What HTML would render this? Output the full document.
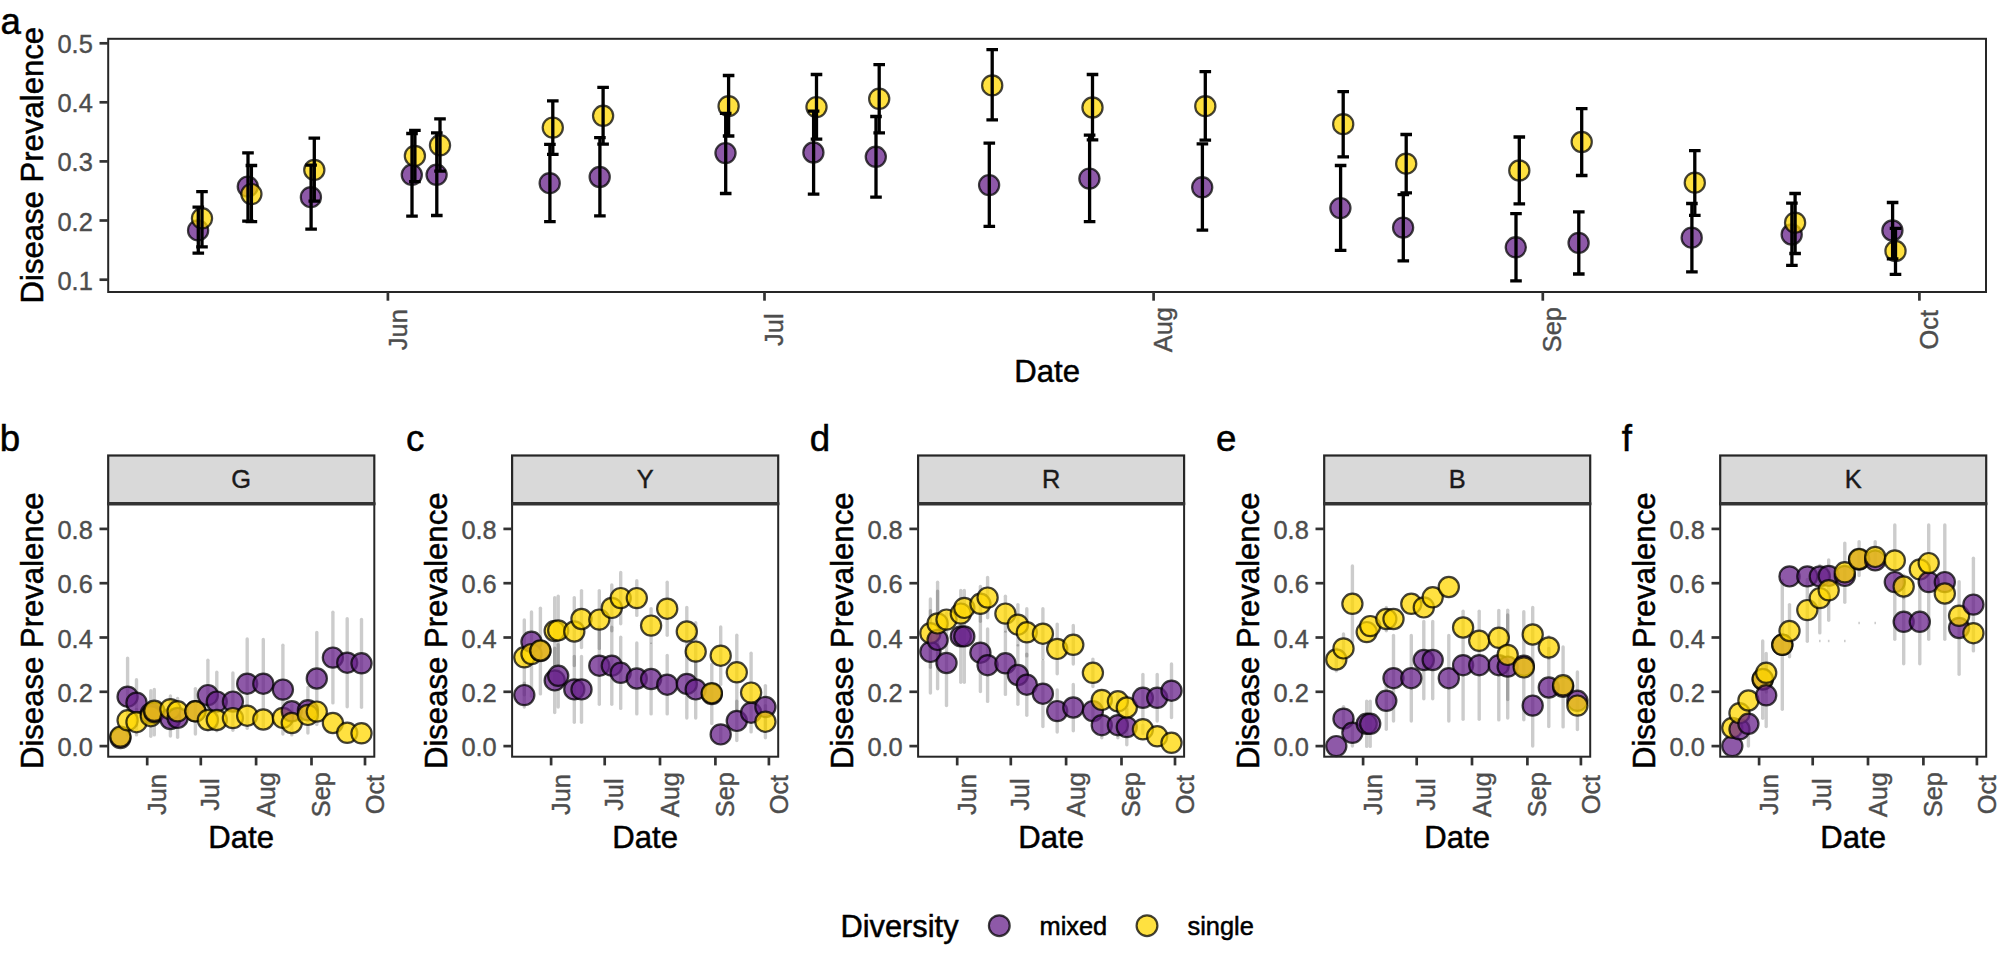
<!DOCTYPE html>
<html lang="en"><head><meta charset="utf-8"><title>Disease prevalence by diversity</title>
<style>html,body{margin:0;padding:0;background:#fff}svg{display:block}</style></head>
<body>
<svg width="2006" height="966" viewBox="0 0 2006 966" font-family='"Liberation Sans", Arial, sans-serif'>
<rect width="2006" height="966" fill="#fff"/>
<g id="panel-a">
<circle cx="198.1" cy="230.4" r="10.1" fill="#68228B" fill-opacity="0.75" stroke="#000" stroke-opacity="0.74" stroke-width="2.2"/>
<circle cx="202.0" cy="218.3" r="10.1" fill="#FFD700" fill-opacity="0.75" stroke="#000" stroke-opacity="0.74" stroke-width="2.2"/>
<circle cx="247.8" cy="186.6" r="10.1" fill="#68228B" fill-opacity="0.75" stroke="#000" stroke-opacity="0.74" stroke-width="2.2"/>
<circle cx="251.4" cy="194.1" r="10.1" fill="#FFD700" fill-opacity="0.75" stroke="#000" stroke-opacity="0.74" stroke-width="2.2"/>
<circle cx="310.9" cy="197.2" r="10.1" fill="#68228B" fill-opacity="0.75" stroke="#000" stroke-opacity="0.74" stroke-width="2.2"/>
<circle cx="314.3" cy="169.9" r="10.1" fill="#FFD700" fill-opacity="0.75" stroke="#000" stroke-opacity="0.74" stroke-width="2.2"/>
<circle cx="411.8" cy="174.8" r="10.1" fill="#68228B" fill-opacity="0.75" stroke="#000" stroke-opacity="0.74" stroke-width="2.2"/>
<circle cx="414.9" cy="155.9" r="10.1" fill="#FFD700" fill-opacity="0.75" stroke="#000" stroke-opacity="0.74" stroke-width="2.2"/>
<circle cx="436.6" cy="174.8" r="10.1" fill="#68228B" fill-opacity="0.75" stroke="#000" stroke-opacity="0.74" stroke-width="2.2"/>
<circle cx="440.0" cy="145.3" r="10.1" fill="#FFD700" fill-opacity="0.75" stroke="#000" stroke-opacity="0.74" stroke-width="2.2"/>
<circle cx="549.7" cy="183.2" r="10.1" fill="#68228B" fill-opacity="0.75" stroke="#000" stroke-opacity="0.74" stroke-width="2.2"/>
<circle cx="552.8" cy="127.6" r="10.1" fill="#FFD700" fill-opacity="0.75" stroke="#000" stroke-opacity="0.74" stroke-width="2.2"/>
<circle cx="599.7" cy="177.0" r="10.1" fill="#68228B" fill-opacity="0.75" stroke="#000" stroke-opacity="0.74" stroke-width="2.2"/>
<circle cx="603.1" cy="115.8" r="10.1" fill="#FFD700" fill-opacity="0.75" stroke="#000" stroke-opacity="0.74" stroke-width="2.2"/>
<circle cx="725.5" cy="153.1" r="10.1" fill="#68228B" fill-opacity="0.75" stroke="#000" stroke-opacity="0.74" stroke-width="2.2"/>
<circle cx="728.6" cy="106.2" r="10.1" fill="#FFD700" fill-opacity="0.75" stroke="#000" stroke-opacity="0.74" stroke-width="2.2"/>
<circle cx="813.4" cy="152.5" r="10.1" fill="#68228B" fill-opacity="0.75" stroke="#000" stroke-opacity="0.74" stroke-width="2.2"/>
<circle cx="816.5" cy="107.1" r="10.1" fill="#FFD700" fill-opacity="0.75" stroke="#000" stroke-opacity="0.74" stroke-width="2.2"/>
<circle cx="875.8" cy="156.8" r="10.1" fill="#68228B" fill-opacity="0.75" stroke="#000" stroke-opacity="0.74" stroke-width="2.2"/>
<circle cx="879.2" cy="98.8" r="10.1" fill="#FFD700" fill-opacity="0.75" stroke="#000" stroke-opacity="0.74" stroke-width="2.2"/>
<circle cx="989.1" cy="185.1" r="10.1" fill="#68228B" fill-opacity="0.75" stroke="#000" stroke-opacity="0.74" stroke-width="2.2"/>
<circle cx="992.2" cy="85.4" r="10.1" fill="#FFD700" fill-opacity="0.75" stroke="#000" stroke-opacity="0.74" stroke-width="2.2"/>
<circle cx="1089.4" cy="178.6" r="10.1" fill="#68228B" fill-opacity="0.75" stroke="#000" stroke-opacity="0.74" stroke-width="2.2"/>
<circle cx="1092.5" cy="107.5" r="10.1" fill="#FFD700" fill-opacity="0.75" stroke="#000" stroke-opacity="0.74" stroke-width="2.2"/>
<circle cx="1202.2" cy="187.3" r="10.1" fill="#68228B" fill-opacity="0.75" stroke="#000" stroke-opacity="0.74" stroke-width="2.2"/>
<circle cx="1205.3" cy="106.2" r="10.1" fill="#FFD700" fill-opacity="0.75" stroke="#000" stroke-opacity="0.74" stroke-width="2.2"/>
<circle cx="1340.4" cy="208.1" r="10.1" fill="#68228B" fill-opacity="0.75" stroke="#000" stroke-opacity="0.74" stroke-width="2.2"/>
<circle cx="1343.2" cy="124.2" r="10.1" fill="#FFD700" fill-opacity="0.75" stroke="#000" stroke-opacity="0.74" stroke-width="2.2"/>
<circle cx="1403.1" cy="227.6" r="10.1" fill="#68228B" fill-opacity="0.75" stroke="#000" stroke-opacity="0.74" stroke-width="2.2"/>
<circle cx="1406.2" cy="163.7" r="10.1" fill="#FFD700" fill-opacity="0.75" stroke="#000" stroke-opacity="0.74" stroke-width="2.2"/>
<circle cx="1515.8" cy="247.3" r="10.1" fill="#68228B" fill-opacity="0.75" stroke="#000" stroke-opacity="0.74" stroke-width="2.2"/>
<circle cx="1519.3" cy="170.5" r="10.1" fill="#FFD700" fill-opacity="0.75" stroke="#000" stroke-opacity="0.74" stroke-width="2.2"/>
<circle cx="1578.6" cy="242.9" r="10.1" fill="#68228B" fill-opacity="0.75" stroke="#000" stroke-opacity="0.74" stroke-width="2.2"/>
<circle cx="1581.7" cy="142.0" r="10.1" fill="#FFD700" fill-opacity="0.75" stroke="#000" stroke-opacity="0.74" stroke-width="2.2"/>
<circle cx="1691.7" cy="237.7" r="10.1" fill="#68228B" fill-opacity="0.75" stroke="#000" stroke-opacity="0.74" stroke-width="2.2"/>
<circle cx="1694.8" cy="182.7" r="10.1" fill="#FFD700" fill-opacity="0.75" stroke="#000" stroke-opacity="0.74" stroke-width="2.2"/>
<circle cx="1791.7" cy="234.5" r="10.1" fill="#68228B" fill-opacity="0.75" stroke="#000" stroke-opacity="0.74" stroke-width="2.2"/>
<circle cx="1795.1" cy="222.7" r="10.1" fill="#FFD700" fill-opacity="0.75" stroke="#000" stroke-opacity="0.74" stroke-width="2.2"/>
<circle cx="1892.4" cy="230.5" r="10.1" fill="#68228B" fill-opacity="0.75" stroke="#000" stroke-opacity="0.74" stroke-width="2.2"/>
<circle cx="1895.5" cy="251.0" r="10.1" fill="#FFD700" fill-opacity="0.75" stroke="#000" stroke-opacity="0.74" stroke-width="2.2"/>
<path d="M192.5 207.1H204.1M198.3 207.1V253.1M192.5 253.1H204.1" stroke="#000" stroke-width="3.3" fill="none"/>
<path d="M196.2 191.6H207.8M202.0 191.6V246.9M196.2 246.9H207.8" stroke="#000" stroke-width="3.3" fill="none"/>
<path d="M242.2 152.8H253.8M248.0 152.8V221.1M242.2 221.1H253.8" stroke="#000" stroke-width="3.3" fill="none"/>
<path d="M245.6 165.5H257.2M251.4 165.5V221.7M245.6 221.7H257.2" stroke="#000" stroke-width="3.3" fill="none"/>
<path d="M305.3 165.2H316.9M311.1 165.2V229.2M305.3 229.2H316.9" stroke="#000" stroke-width="3.3" fill="none"/>
<path d="M308.5 138.2H320.1M314.3 138.2V201.2M308.5 201.2H320.1" stroke="#000" stroke-width="3.3" fill="none"/>
<path d="M406.2 133.5H417.8M412.0 133.5V216.1M406.2 216.1H417.8" stroke="#000" stroke-width="3.3" fill="none"/>
<path d="M409.1 130.4H420.7M414.9 130.4V181.7M409.1 181.7H420.7" stroke="#000" stroke-width="3.3" fill="none"/>
<path d="M431.0 132.9H442.6M436.8 132.9V215.5M431.0 215.5H442.6" stroke="#000" stroke-width="3.3" fill="none"/>
<path d="M434.2 118.9H445.8M440.0 118.9V171.1M434.2 171.1H445.8" stroke="#000" stroke-width="3.3" fill="none"/>
<path d="M544.1 144.4H555.7M549.9 144.4V221.7M544.1 221.7H555.7" stroke="#000" stroke-width="3.3" fill="none"/>
<path d="M547.0 100.9H558.6M552.8 100.9V154.3M547.0 154.3H558.6" stroke="#000" stroke-width="3.3" fill="none"/>
<path d="M594.1 137.6H605.7M599.9 137.6V215.8M594.1 215.8H605.7" stroke="#000" stroke-width="3.3" fill="none"/>
<path d="M597.3 87.3H608.9M603.1 87.3V144.1M597.3 144.1H608.9" stroke="#000" stroke-width="3.3" fill="none"/>
<path d="M719.9 113.4H731.5M725.7 113.4V193.5M719.9 193.5H731.5" stroke="#000" stroke-width="3.3" fill="none"/>
<path d="M722.8 75.5H734.4M728.6 75.5V136.0M722.8 136.0H734.4" stroke="#000" stroke-width="3.3" fill="none"/>
<path d="M807.8 111.2H819.4M813.6 111.2V194.1M807.8 194.1H819.4" stroke="#000" stroke-width="3.3" fill="none"/>
<path d="M810.7 74.5H822.3M816.5 74.5V139.1M810.7 139.1H822.3" stroke="#000" stroke-width="3.3" fill="none"/>
<path d="M870.2 116.5H881.8M876.0 116.5V197.2M870.2 197.2H881.8" stroke="#000" stroke-width="3.3" fill="none"/>
<path d="M873.4 64.6H885.0M879.2 64.6V132.9M873.4 132.9H885.0" stroke="#000" stroke-width="3.3" fill="none"/>
<path d="M983.5 143.2H995.1M989.3 143.2V226.4M983.5 226.4H995.1" stroke="#000" stroke-width="3.3" fill="none"/>
<path d="M986.4 49.7H998.0M992.2 49.7V119.9M986.4 119.9H998.0" stroke="#000" stroke-width="3.3" fill="none"/>
<path d="M1083.8 135.1H1095.4M1089.6 135.1V221.7M1083.8 221.7H1095.4" stroke="#000" stroke-width="3.3" fill="none"/>
<path d="M1086.7 74.5H1098.3M1092.5 74.5V139.8M1086.7 139.8H1098.3" stroke="#000" stroke-width="3.3" fill="none"/>
<path d="M1196.6 143.8H1208.2M1202.4 143.8V230.1M1196.6 230.1H1208.2" stroke="#000" stroke-width="3.3" fill="none"/>
<path d="M1199.5 71.7H1211.1M1205.3 71.7V140.1M1199.5 140.1H1211.1" stroke="#000" stroke-width="3.3" fill="none"/>
<path d="M1334.8 165.5H1346.4M1340.6 165.5V250.3M1334.8 250.3H1346.4" stroke="#000" stroke-width="3.3" fill="none"/>
<path d="M1337.4 91.6H1349.0M1343.2 91.6V156.8M1337.4 156.8H1349.0" stroke="#000" stroke-width="3.3" fill="none"/>
<path d="M1397.5 194.7H1409.1M1403.3 194.7V260.9M1397.5 260.9H1409.1" stroke="#000" stroke-width="3.3" fill="none"/>
<path d="M1400.4 134.5H1412.0M1406.2 134.5V192.9M1400.4 192.9H1412.0" stroke="#000" stroke-width="3.3" fill="none"/>
<path d="M1510.2 213.7H1521.8M1516.0 213.7V280.8M1510.2 280.8H1521.8" stroke="#000" stroke-width="3.3" fill="none"/>
<path d="M1513.5 137.0H1525.1M1519.3 137.0V203.8M1513.5 203.8H1525.1" stroke="#000" stroke-width="3.3" fill="none"/>
<path d="M1573.0 211.9H1584.6M1578.8 211.9V274.0M1573.0 274.0H1584.6" stroke="#000" stroke-width="3.3" fill="none"/>
<path d="M1575.9 108.7H1587.5M1581.7 108.7V175.5M1575.9 175.5H1587.5" stroke="#000" stroke-width="3.3" fill="none"/>
<path d="M1686.1 203.5H1697.7M1691.9 203.5V271.8M1686.1 271.8H1697.7" stroke="#000" stroke-width="3.3" fill="none"/>
<path d="M1689.0 150.7H1700.6M1694.8 150.7V215.3M1689.0 215.3H1700.6" stroke="#000" stroke-width="3.3" fill="none"/>
<path d="M1786.1 203.2H1797.7M1791.9 203.2V265.3M1786.1 265.3H1797.7" stroke="#000" stroke-width="3.3" fill="none"/>
<path d="M1789.3 193.5H1800.9M1795.1 193.5V253.5M1789.3 253.5H1800.9" stroke="#000" stroke-width="3.3" fill="none"/>
<path d="M1886.8 202.5H1898.4M1892.6 202.5V258.8M1886.8 258.8H1898.4" stroke="#000" stroke-width="3.3" fill="none"/>
<path d="M1889.7 228.3H1901.3M1895.5 228.3V274.3M1889.7 274.3H1901.3" stroke="#000" stroke-width="3.3" fill="none"/>
<rect x="108.2" y="38.8" width="1877.8" height="253.2" fill="none" stroke="#262626" stroke-width="2.0"/>
<path d="M99.5 43.3H108.2" stroke="#333333" stroke-width="2.7"/>
<text x="92.8" y="53.3" font-size="25.4" fill="#4D4D4D" stroke="#4D4D4D" stroke-width="0.4" text-anchor="end">0.5</text>
<path d="M99.5 102.3H108.2" stroke="#333333" stroke-width="2.7"/>
<text x="92.8" y="112.3" font-size="25.4" fill="#4D4D4D" stroke="#4D4D4D" stroke-width="0.4" text-anchor="end">0.4</text>
<path d="M99.5 161.4H108.2" stroke="#333333" stroke-width="2.7"/>
<text x="92.8" y="171.4" font-size="25.4" fill="#4D4D4D" stroke="#4D4D4D" stroke-width="0.4" text-anchor="end">0.3</text>
<path d="M99.5 220.5H108.2" stroke="#333333" stroke-width="2.7"/>
<text x="92.8" y="230.5" font-size="25.4" fill="#4D4D4D" stroke="#4D4D4D" stroke-width="0.4" text-anchor="end">0.2</text>
<path d="M99.5 279.7H108.2" stroke="#333333" stroke-width="2.7"/>
<text x="92.8" y="289.7" font-size="25.4" fill="#4D4D4D" stroke="#4D4D4D" stroke-width="0.4" text-anchor="end">0.1</text>
<path d="M387.9 292.0V300.7" stroke="#333333" stroke-width="2.7"/>
<text transform="translate(406.5 329.7) rotate(-90)" font-size="25.4" fill="#4D4D4D" stroke="#4D4D4D" stroke-width="0.4" text-anchor="middle">Jun</text>
<path d="M764.5 292.0V300.7" stroke="#333333" stroke-width="2.7"/>
<text transform="translate(783.1 329.7) rotate(-90)" font-size="25.4" fill="#4D4D4D" stroke="#4D4D4D" stroke-width="0.4" text-anchor="middle">Jul</text>
<path d="M1153.6 292.0V300.7" stroke="#333333" stroke-width="2.7"/>
<text transform="translate(1172.2 329.7) rotate(-90)" font-size="25.4" fill="#4D4D4D" stroke="#4D4D4D" stroke-width="0.4" text-anchor="middle">Aug</text>
<path d="M1542.8 292.0V300.7" stroke="#333333" stroke-width="2.7"/>
<text transform="translate(1561.4 329.7) rotate(-90)" font-size="25.4" fill="#4D4D4D" stroke="#4D4D4D" stroke-width="0.4" text-anchor="middle">Sep</text>
<path d="M1919.4 292.0V300.7" stroke="#333333" stroke-width="2.7"/>
<text transform="translate(1938.0 329.7) rotate(-90)" font-size="25.4" fill="#4D4D4D" stroke="#4D4D4D" stroke-width="0.4" text-anchor="middle">Oct</text>
<text x="1047.1" y="382.3" font-size="31.1" text-anchor="middle" fill="#000" stroke="#000" stroke-width="0.5">Date</text>
<text transform="translate(42.8 165.2) rotate(-90)" font-size="31.1" text-anchor="middle" fill="#000" stroke="#000" stroke-width="0.5">Disease Prevalence</text>
<text x="0.5" y="33.8" font-size="36.7" fill="#000" stroke="#000" stroke-width="0.5">a</text>
</g>
<g id="panel-b">
<rect x="108.2" y="455.5" width="266.1" height="48.3" fill="#D9D9D9" stroke="#262626" stroke-width="2.2"/>
<text x="241.2" y="488.4" font-size="25.4" text-anchor="middle" fill="#1A1A1A" stroke="#1A1A1A" stroke-width="0.4">G</text>
<path d="M127.6 658.1V735.3" stroke="#000" stroke-opacity="0.2" stroke-width="3.4" stroke-linecap="round"/>
<path d="M136.5 679.7V725.6" stroke="#000" stroke-opacity="0.2" stroke-width="3.4" stroke-linecap="round"/>
<path d="M136.5 709.5V734.9" stroke="#000" stroke-opacity="0.2" stroke-width="3.4" stroke-linecap="round"/>
<path d="M150.8 690.8V736.2" stroke="#000" stroke-opacity="0.2" stroke-width="3.4" stroke-linecap="round"/>
<path d="M154.3 689.4V734.9" stroke="#000" stroke-opacity="0.2" stroke-width="3.4" stroke-linecap="round"/>
<path d="M170.4 696.0V722.4" stroke="#000" stroke-opacity="0.2" stroke-width="3.4" stroke-linecap="round"/>
<path d="M170.4 701.9V736.0" stroke="#000" stroke-opacity="0.2" stroke-width="3.4" stroke-linecap="round"/>
<path d="M177.6 698.4V737.3" stroke="#000" stroke-opacity="0.2" stroke-width="3.4" stroke-linecap="round"/>
<path d="M195.4 688.6V734.1" stroke="#000" stroke-opacity="0.2" stroke-width="3.4" stroke-linecap="round"/>
<path d="M207.9 660.2V729.9" stroke="#000" stroke-opacity="0.2" stroke-width="3.4" stroke-linecap="round"/>
<path d="M216.8 672.3V730.8" stroke="#000" stroke-opacity="0.2" stroke-width="3.4" stroke-linecap="round"/>
<path d="M232.9 672.9V730.3" stroke="#000" stroke-opacity="0.2" stroke-width="3.4" stroke-linecap="round"/>
<path d="M247.2 639.0V728.3" stroke="#000" stroke-opacity="0.2" stroke-width="3.4" stroke-linecap="round"/>
<path d="M263.3 639.5V727.8" stroke="#000" stroke-opacity="0.2" stroke-width="3.4" stroke-linecap="round"/>
<path d="M282.9 645.2V734.1" stroke="#000" stroke-opacity="0.2" stroke-width="3.4" stroke-linecap="round"/>
<path d="M291.8 704.7V718.0" stroke="#000" stroke-opacity="0.2" stroke-width="3.4" stroke-linecap="round"/>
<path d="M291.8 711.2V734.9" stroke="#000" stroke-opacity="0.2" stroke-width="3.4" stroke-linecap="round"/>
<path d="M307.9 687.5V733.0" stroke="#000" stroke-opacity="0.2" stroke-width="3.4" stroke-linecap="round"/>
<path d="M316.8 632.4V724.6" stroke="#000" stroke-opacity="0.2" stroke-width="3.4" stroke-linecap="round"/>
<path d="M332.9 612.3V702.9" stroke="#000" stroke-opacity="0.2" stroke-width="3.4" stroke-linecap="round"/>
<path d="M347.2 618.8V706.7" stroke="#000" stroke-opacity="0.2" stroke-width="3.4" stroke-linecap="round"/>
<path d="M361.5 619.4V707.2" stroke="#000" stroke-opacity="0.2" stroke-width="3.4" stroke-linecap="round"/>
<circle cx="120.4" cy="738.0" r="10.1" fill="#68228B" fill-opacity="0.75" stroke="#000" stroke-opacity="0.74" stroke-width="2.2"/>
<circle cx="120.4" cy="736.6" r="10.1" fill="#FFD700" fill-opacity="0.75" stroke="#000" stroke-opacity="0.74" stroke-width="2.2"/>
<circle cx="127.6" cy="696.7" r="10.1" fill="#68228B" fill-opacity="0.75" stroke="#000" stroke-opacity="0.74" stroke-width="2.2"/>
<circle cx="127.6" cy="720.3" r="10.1" fill="#FFD700" fill-opacity="0.75" stroke="#000" stroke-opacity="0.74" stroke-width="2.2"/>
<circle cx="136.5" cy="702.7" r="10.1" fill="#68228B" fill-opacity="0.75" stroke="#000" stroke-opacity="0.74" stroke-width="2.2"/>
<circle cx="136.5" cy="722.2" r="10.1" fill="#FFD700" fill-opacity="0.75" stroke="#000" stroke-opacity="0.74" stroke-width="2.2"/>
<circle cx="150.8" cy="713.5" r="10.1" fill="#68228B" fill-opacity="0.75" stroke="#000" stroke-opacity="0.74" stroke-width="2.2"/>
<circle cx="150.8" cy="716.2" r="10.1" fill="#FFD700" fill-opacity="0.75" stroke="#000" stroke-opacity="0.74" stroke-width="2.2"/>
<circle cx="154.3" cy="712.2" r="10.1" fill="#68228B" fill-opacity="0.75" stroke="#000" stroke-opacity="0.74" stroke-width="2.2"/>
<circle cx="154.3" cy="710.8" r="10.1" fill="#FFD700" fill-opacity="0.75" stroke="#000" stroke-opacity="0.74" stroke-width="2.2"/>
<circle cx="170.4" cy="719.0" r="10.1" fill="#68228B" fill-opacity="0.75" stroke="#000" stroke-opacity="0.74" stroke-width="2.2"/>
<circle cx="170.4" cy="709.2" r="10.1" fill="#FFD700" fill-opacity="0.75" stroke="#000" stroke-opacity="0.74" stroke-width="2.2"/>
<circle cx="177.6" cy="717.9" r="10.1" fill="#68228B" fill-opacity="0.75" stroke="#000" stroke-opacity="0.74" stroke-width="2.2"/>
<circle cx="177.6" cy="711.3" r="10.1" fill="#FFD700" fill-opacity="0.75" stroke="#000" stroke-opacity="0.74" stroke-width="2.2"/>
<circle cx="195.4" cy="711.3" r="10.1" fill="#68228B" fill-opacity="0.75" stroke="#000" stroke-opacity="0.74" stroke-width="2.2"/>
<circle cx="195.4" cy="711.3" r="10.1" fill="#FFD700" fill-opacity="0.75" stroke="#000" stroke-opacity="0.74" stroke-width="2.2"/>
<circle cx="207.9" cy="695.1" r="10.1" fill="#68228B" fill-opacity="0.75" stroke="#000" stroke-opacity="0.74" stroke-width="2.2"/>
<circle cx="207.9" cy="720.0" r="10.1" fill="#FFD700" fill-opacity="0.75" stroke="#000" stroke-opacity="0.74" stroke-width="2.2"/>
<circle cx="216.8" cy="701.6" r="10.1" fill="#68228B" fill-opacity="0.75" stroke="#000" stroke-opacity="0.74" stroke-width="2.2"/>
<circle cx="216.8" cy="720.0" r="10.1" fill="#FFD700" fill-opacity="0.75" stroke="#000" stroke-opacity="0.74" stroke-width="2.2"/>
<circle cx="232.9" cy="701.6" r="10.1" fill="#68228B" fill-opacity="0.75" stroke="#000" stroke-opacity="0.74" stroke-width="2.2"/>
<circle cx="232.9" cy="718.1" r="10.1" fill="#FFD700" fill-opacity="0.75" stroke="#000" stroke-opacity="0.74" stroke-width="2.2"/>
<circle cx="247.2" cy="683.7" r="10.1" fill="#68228B" fill-opacity="0.75" stroke="#000" stroke-opacity="0.74" stroke-width="2.2"/>
<circle cx="247.2" cy="715.7" r="10.1" fill="#FFD700" fill-opacity="0.75" stroke="#000" stroke-opacity="0.74" stroke-width="2.2"/>
<circle cx="263.3" cy="683.7" r="10.1" fill="#68228B" fill-opacity="0.75" stroke="#000" stroke-opacity="0.74" stroke-width="2.2"/>
<circle cx="263.3" cy="719.5" r="10.1" fill="#FFD700" fill-opacity="0.75" stroke="#000" stroke-opacity="0.74" stroke-width="2.2"/>
<circle cx="282.9" cy="689.6" r="10.1" fill="#68228B" fill-opacity="0.75" stroke="#000" stroke-opacity="0.74" stroke-width="2.2"/>
<circle cx="282.9" cy="717.9" r="10.1" fill="#FFD700" fill-opacity="0.75" stroke="#000" stroke-opacity="0.74" stroke-width="2.2"/>
<circle cx="291.8" cy="711.3" r="10.1" fill="#68228B" fill-opacity="0.75" stroke="#000" stroke-opacity="0.74" stroke-width="2.2"/>
<circle cx="291.8" cy="723.0" r="10.1" fill="#FFD700" fill-opacity="0.75" stroke="#000" stroke-opacity="0.74" stroke-width="2.2"/>
<circle cx="307.9" cy="710.3" r="10.1" fill="#68228B" fill-opacity="0.75" stroke="#000" stroke-opacity="0.74" stroke-width="2.2"/>
<circle cx="307.9" cy="714.9" r="10.1" fill="#FFD700" fill-opacity="0.75" stroke="#000" stroke-opacity="0.74" stroke-width="2.2"/>
<circle cx="316.8" cy="678.5" r="10.1" fill="#68228B" fill-opacity="0.75" stroke="#000" stroke-opacity="0.74" stroke-width="2.2"/>
<circle cx="316.8" cy="711.6" r="10.1" fill="#FFD700" fill-opacity="0.75" stroke="#000" stroke-opacity="0.74" stroke-width="2.2"/>
<circle cx="332.9" cy="657.6" r="10.1" fill="#68228B" fill-opacity="0.75" stroke="#000" stroke-opacity="0.74" stroke-width="2.2"/>
<circle cx="332.9" cy="723.0" r="10.1" fill="#FFD700" fill-opacity="0.75" stroke="#000" stroke-opacity="0.74" stroke-width="2.2"/>
<circle cx="347.2" cy="662.7" r="10.1" fill="#68228B" fill-opacity="0.75" stroke="#000" stroke-opacity="0.74" stroke-width="2.2"/>
<circle cx="347.2" cy="732.8" r="10.1" fill="#FFD700" fill-opacity="0.75" stroke="#000" stroke-opacity="0.74" stroke-width="2.2"/>
<circle cx="361.5" cy="663.3" r="10.1" fill="#68228B" fill-opacity="0.75" stroke="#000" stroke-opacity="0.74" stroke-width="2.2"/>
<circle cx="361.5" cy="733.3" r="10.1" fill="#FFD700" fill-opacity="0.75" stroke="#000" stroke-opacity="0.74" stroke-width="2.2"/>
<rect x="108.2" y="503.8" width="266.1" height="252.9" fill="none" stroke="#262626" stroke-width="2.0"/>
<path d="M107.2 503.8H375.3" stroke="#333333" stroke-width="3.4"/>
<path d="M99.5 746.1H108.2" stroke="#333333" stroke-width="2.7"/>
<text x="92.8" y="756.1" font-size="25.4" fill="#4D4D4D" stroke="#4D4D4D" stroke-width="0.4" text-anchor="end">0.0</text>
<path d="M99.5 691.8H108.2" stroke="#333333" stroke-width="2.7"/>
<text x="92.8" y="701.8" font-size="25.4" fill="#4D4D4D" stroke="#4D4D4D" stroke-width="0.4" text-anchor="end">0.2</text>
<path d="M99.5 637.5H108.2" stroke="#333333" stroke-width="2.7"/>
<text x="92.8" y="647.5" font-size="25.4" fill="#4D4D4D" stroke="#4D4D4D" stroke-width="0.4" text-anchor="end">0.4</text>
<path d="M99.5 583.2H108.2" stroke="#333333" stroke-width="2.7"/>
<text x="92.8" y="593.2" font-size="25.4" fill="#4D4D4D" stroke="#4D4D4D" stroke-width="0.4" text-anchor="end">0.6</text>
<path d="M99.5 528.9H108.2" stroke="#333333" stroke-width="2.7"/>
<text x="92.8" y="538.9" font-size="25.4" fill="#4D4D4D" stroke="#4D4D4D" stroke-width="0.4" text-anchor="end">0.8</text>
<path d="M147.2 756.7V765.4" stroke="#333333" stroke-width="2.7"/>
<text transform="translate(165.8 794.6) rotate(-90)" font-size="25.4" fill="#4D4D4D" stroke="#4D4D4D" stroke-width="0.4" text-anchor="middle">Jun</text>
<path d="M200.8 756.7V765.4" stroke="#333333" stroke-width="2.7"/>
<text transform="translate(219.4 794.6) rotate(-90)" font-size="25.4" fill="#4D4D4D" stroke="#4D4D4D" stroke-width="0.4" text-anchor="middle">Jul</text>
<path d="M256.1 756.7V765.4" stroke="#333333" stroke-width="2.7"/>
<text transform="translate(274.7 794.6) rotate(-90)" font-size="25.4" fill="#4D4D4D" stroke="#4D4D4D" stroke-width="0.4" text-anchor="middle">Aug</text>
<path d="M311.5 756.7V765.4" stroke="#333333" stroke-width="2.7"/>
<text transform="translate(330.1 794.6) rotate(-90)" font-size="25.4" fill="#4D4D4D" stroke="#4D4D4D" stroke-width="0.4" text-anchor="middle">Sep</text>
<path d="M365.0 756.7V765.4" stroke="#333333" stroke-width="2.7"/>
<text transform="translate(383.6 794.6) rotate(-90)" font-size="25.4" fill="#4D4D4D" stroke="#4D4D4D" stroke-width="0.4" text-anchor="middle">Oct</text>
<text x="241.2" y="848.3" font-size="31.1" text-anchor="middle" fill="#000" stroke="#000" stroke-width="0.5">Date</text>
<text transform="translate(42.8 630.8) rotate(-90)" font-size="31.1" text-anchor="middle" fill="#000" stroke="#000" stroke-width="0.5">Disease Prevalence</text>
<text x="-0.2" y="451.3" font-size="36.7" fill="#000" stroke="#000" stroke-width="0.5">b</text>
</g>
<g id="panel-c">
<rect x="512.1" y="455.5" width="266.1" height="48.3" fill="#D9D9D9" stroke="#262626" stroke-width="2.2"/>
<text x="645.2" y="488.4" font-size="25.4" text-anchor="middle" fill="#1A1A1A" stroke="#1A1A1A" stroke-width="0.4">Y</text>
<path d="M524.3 619.9V694.7" stroke="#000" stroke-opacity="0.2" stroke-width="3.4" stroke-linecap="round"/>
<path d="M524.3 683.2V707.0" stroke="#000" stroke-opacity="0.2" stroke-width="3.4" stroke-linecap="round"/>
<path d="M531.5 612.0V696.2" stroke="#000" stroke-opacity="0.2" stroke-width="3.4" stroke-linecap="round"/>
<path d="M540.4 608.3V693.9" stroke="#000" stroke-opacity="0.2" stroke-width="3.4" stroke-linecap="round"/>
<path d="M554.7 597.6V664.4" stroke="#000" stroke-opacity="0.2" stroke-width="3.4" stroke-linecap="round"/>
<path d="M554.7 648.2V712.5" stroke="#000" stroke-opacity="0.2" stroke-width="3.4" stroke-linecap="round"/>
<path d="M558.2 596.2V664.7" stroke="#000" stroke-opacity="0.2" stroke-width="3.4" stroke-linecap="round"/>
<path d="M558.2 644.6V707.0" stroke="#000" stroke-opacity="0.2" stroke-width="3.4" stroke-linecap="round"/>
<path d="M574.3 597.6V665.5" stroke="#000" stroke-opacity="0.2" stroke-width="3.4" stroke-linecap="round"/>
<path d="M574.3 656.4V722.3" stroke="#000" stroke-opacity="0.2" stroke-width="3.4" stroke-linecap="round"/>
<path d="M581.5 590.6V647.5" stroke="#000" stroke-opacity="0.2" stroke-width="3.4" stroke-linecap="round"/>
<path d="M581.5 656.4V722.3" stroke="#000" stroke-opacity="0.2" stroke-width="3.4" stroke-linecap="round"/>
<path d="M599.3 590.6V648.6" stroke="#000" stroke-opacity="0.2" stroke-width="3.4" stroke-linecap="round"/>
<path d="M599.3 627.3V704.2" stroke="#000" stroke-opacity="0.2" stroke-width="3.4" stroke-linecap="round"/>
<path d="M611.8 585.0V630.8" stroke="#000" stroke-opacity="0.2" stroke-width="3.4" stroke-linecap="round"/>
<path d="M611.8 627.3V704.2" stroke="#000" stroke-opacity="0.2" stroke-width="3.4" stroke-linecap="round"/>
<path d="M620.7 572.4V623.8" stroke="#000" stroke-opacity="0.2" stroke-width="3.4" stroke-linecap="round"/>
<path d="M620.7 637.2V708.4" stroke="#000" stroke-opacity="0.2" stroke-width="3.4" stroke-linecap="round"/>
<path d="M636.8 580.8V615.4" stroke="#000" stroke-opacity="0.2" stroke-width="3.4" stroke-linecap="round"/>
<path d="M636.8 643.0V713.9" stroke="#000" stroke-opacity="0.2" stroke-width="3.4" stroke-linecap="round"/>
<path d="M651.1 608.8V642.3" stroke="#000" stroke-opacity="0.2" stroke-width="3.4" stroke-linecap="round"/>
<path d="M651.1 644.1V713.9" stroke="#000" stroke-opacity="0.2" stroke-width="3.4" stroke-linecap="round"/>
<path d="M667.2 582.2V635.2" stroke="#000" stroke-opacity="0.2" stroke-width="3.4" stroke-linecap="round"/>
<path d="M667.2 655.5V713.9" stroke="#000" stroke-opacity="0.2" stroke-width="3.4" stroke-linecap="round"/>
<path d="M686.8 607.4V655.7" stroke="#000" stroke-opacity="0.2" stroke-width="3.4" stroke-linecap="round"/>
<path d="M686.8 649.7V718.1" stroke="#000" stroke-opacity="0.2" stroke-width="3.4" stroke-linecap="round"/>
<path d="M695.7 622.7V680.5" stroke="#000" stroke-opacity="0.2" stroke-width="3.4" stroke-linecap="round"/>
<path d="M695.7 660.6V718.1" stroke="#000" stroke-opacity="0.2" stroke-width="3.4" stroke-linecap="round"/>
<path d="M711.8 664.4V723.5" stroke="#000" stroke-opacity="0.2" stroke-width="3.4" stroke-linecap="round"/>
<path d="M720.7 626.9V684.4" stroke="#000" stroke-opacity="0.2" stroke-width="3.4" stroke-linecap="round"/>
<path d="M720.7 727.0V741.9" stroke="#000" stroke-opacity="0.2" stroke-width="3.4" stroke-linecap="round"/>
<path d="M736.8 635.3V709.2" stroke="#000" stroke-opacity="0.2" stroke-width="3.4" stroke-linecap="round"/>
<path d="M736.8 701.2V740.5" stroke="#000" stroke-opacity="0.2" stroke-width="3.4" stroke-linecap="round"/>
<path d="M751.1 653.3V731.9" stroke="#000" stroke-opacity="0.2" stroke-width="3.4" stroke-linecap="round"/>
<path d="M765.4 685.6V728.4" stroke="#000" stroke-opacity="0.2" stroke-width="3.4" stroke-linecap="round"/>
<path d="M765.4 705.6V737.7" stroke="#000" stroke-opacity="0.2" stroke-width="3.4" stroke-linecap="round"/>
<circle cx="524.3" cy="695.1" r="10.1" fill="#68228B" fill-opacity="0.75" stroke="#000" stroke-opacity="0.74" stroke-width="2.2"/>
<circle cx="524.3" cy="657.3" r="10.1" fill="#FFD700" fill-opacity="0.75" stroke="#000" stroke-opacity="0.74" stroke-width="2.2"/>
<circle cx="531.5" cy="641.8" r="10.1" fill="#68228B" fill-opacity="0.75" stroke="#000" stroke-opacity="0.74" stroke-width="2.2"/>
<circle cx="531.5" cy="654.1" r="10.1" fill="#FFD700" fill-opacity="0.75" stroke="#000" stroke-opacity="0.74" stroke-width="2.2"/>
<circle cx="540.4" cy="651.1" r="10.1" fill="#68228B" fill-opacity="0.75" stroke="#000" stroke-opacity="0.74" stroke-width="2.2"/>
<circle cx="540.4" cy="650.5" r="10.1" fill="#FFD700" fill-opacity="0.75" stroke="#000" stroke-opacity="0.74" stroke-width="2.2"/>
<circle cx="554.7" cy="680.4" r="10.1" fill="#68228B" fill-opacity="0.75" stroke="#000" stroke-opacity="0.74" stroke-width="2.2"/>
<circle cx="554.7" cy="631.0" r="10.1" fill="#FFD700" fill-opacity="0.75" stroke="#000" stroke-opacity="0.74" stroke-width="2.2"/>
<circle cx="558.2" cy="675.8" r="10.1" fill="#68228B" fill-opacity="0.75" stroke="#000" stroke-opacity="0.74" stroke-width="2.2"/>
<circle cx="558.2" cy="630.4" r="10.1" fill="#FFD700" fill-opacity="0.75" stroke="#000" stroke-opacity="0.74" stroke-width="2.2"/>
<circle cx="574.3" cy="689.4" r="10.1" fill="#68228B" fill-opacity="0.75" stroke="#000" stroke-opacity="0.74" stroke-width="2.2"/>
<circle cx="574.3" cy="631.5" r="10.1" fill="#FFD700" fill-opacity="0.75" stroke="#000" stroke-opacity="0.74" stroke-width="2.2"/>
<circle cx="581.5" cy="689.4" r="10.1" fill="#68228B" fill-opacity="0.75" stroke="#000" stroke-opacity="0.74" stroke-width="2.2"/>
<circle cx="581.5" cy="619.0" r="10.1" fill="#FFD700" fill-opacity="0.75" stroke="#000" stroke-opacity="0.74" stroke-width="2.2"/>
<circle cx="599.3" cy="665.7" r="10.1" fill="#68228B" fill-opacity="0.75" stroke="#000" stroke-opacity="0.74" stroke-width="2.2"/>
<circle cx="599.3" cy="619.6" r="10.1" fill="#FFD700" fill-opacity="0.75" stroke="#000" stroke-opacity="0.74" stroke-width="2.2"/>
<circle cx="611.8" cy="665.7" r="10.1" fill="#68228B" fill-opacity="0.75" stroke="#000" stroke-opacity="0.74" stroke-width="2.2"/>
<circle cx="611.8" cy="607.9" r="10.1" fill="#FFD700" fill-opacity="0.75" stroke="#000" stroke-opacity="0.74" stroke-width="2.2"/>
<circle cx="620.7" cy="672.8" r="10.1" fill="#68228B" fill-opacity="0.75" stroke="#000" stroke-opacity="0.74" stroke-width="2.2"/>
<circle cx="620.7" cy="598.1" r="10.1" fill="#FFD700" fill-opacity="0.75" stroke="#000" stroke-opacity="0.74" stroke-width="2.2"/>
<circle cx="636.8" cy="678.5" r="10.1" fill="#68228B" fill-opacity="0.75" stroke="#000" stroke-opacity="0.74" stroke-width="2.2"/>
<circle cx="636.8" cy="598.1" r="10.1" fill="#FFD700" fill-opacity="0.75" stroke="#000" stroke-opacity="0.74" stroke-width="2.2"/>
<circle cx="651.1" cy="679.0" r="10.1" fill="#68228B" fill-opacity="0.75" stroke="#000" stroke-opacity="0.74" stroke-width="2.2"/>
<circle cx="651.1" cy="625.6" r="10.1" fill="#FFD700" fill-opacity="0.75" stroke="#000" stroke-opacity="0.74" stroke-width="2.2"/>
<circle cx="667.2" cy="684.7" r="10.1" fill="#68228B" fill-opacity="0.75" stroke="#000" stroke-opacity="0.74" stroke-width="2.2"/>
<circle cx="667.2" cy="608.7" r="10.1" fill="#FFD700" fill-opacity="0.75" stroke="#000" stroke-opacity="0.74" stroke-width="2.2"/>
<circle cx="686.8" cy="683.9" r="10.1" fill="#68228B" fill-opacity="0.75" stroke="#000" stroke-opacity="0.74" stroke-width="2.2"/>
<circle cx="686.8" cy="631.5" r="10.1" fill="#FFD700" fill-opacity="0.75" stroke="#000" stroke-opacity="0.74" stroke-width="2.2"/>
<circle cx="695.7" cy="689.4" r="10.1" fill="#68228B" fill-opacity="0.75" stroke="#000" stroke-opacity="0.74" stroke-width="2.2"/>
<circle cx="695.7" cy="651.6" r="10.1" fill="#FFD700" fill-opacity="0.75" stroke="#000" stroke-opacity="0.74" stroke-width="2.2"/>
<circle cx="711.8" cy="694.0" r="10.1" fill="#68228B" fill-opacity="0.75" stroke="#000" stroke-opacity="0.74" stroke-width="2.2"/>
<circle cx="711.8" cy="693.2" r="10.1" fill="#FFD700" fill-opacity="0.75" stroke="#000" stroke-opacity="0.74" stroke-width="2.2"/>
<circle cx="720.7" cy="734.4" r="10.1" fill="#68228B" fill-opacity="0.75" stroke="#000" stroke-opacity="0.74" stroke-width="2.2"/>
<circle cx="720.7" cy="655.7" r="10.1" fill="#FFD700" fill-opacity="0.75" stroke="#000" stroke-opacity="0.74" stroke-width="2.2"/>
<circle cx="736.8" cy="720.9" r="10.1" fill="#68228B" fill-opacity="0.75" stroke="#000" stroke-opacity="0.74" stroke-width="2.2"/>
<circle cx="736.8" cy="672.3" r="10.1" fill="#FFD700" fill-opacity="0.75" stroke="#000" stroke-opacity="0.74" stroke-width="2.2"/>
<circle cx="751.1" cy="712.7" r="10.1" fill="#68228B" fill-opacity="0.75" stroke="#000" stroke-opacity="0.74" stroke-width="2.2"/>
<circle cx="751.1" cy="692.6" r="10.1" fill="#FFD700" fill-opacity="0.75" stroke="#000" stroke-opacity="0.74" stroke-width="2.2"/>
<circle cx="765.4" cy="707.0" r="10.1" fill="#68228B" fill-opacity="0.75" stroke="#000" stroke-opacity="0.74" stroke-width="2.2"/>
<circle cx="765.4" cy="721.7" r="10.1" fill="#FFD700" fill-opacity="0.75" stroke="#000" stroke-opacity="0.74" stroke-width="2.2"/>
<rect x="512.1" y="503.8" width="266.1" height="252.9" fill="none" stroke="#262626" stroke-width="2.0"/>
<path d="M511.1 503.8H779.2" stroke="#333333" stroke-width="3.4"/>
<path d="M503.4 746.1H512.1" stroke="#333333" stroke-width="2.7"/>
<text x="496.7" y="756.1" font-size="25.4" fill="#4D4D4D" stroke="#4D4D4D" stroke-width="0.4" text-anchor="end">0.0</text>
<path d="M503.4 691.8H512.1" stroke="#333333" stroke-width="2.7"/>
<text x="496.7" y="701.8" font-size="25.4" fill="#4D4D4D" stroke="#4D4D4D" stroke-width="0.4" text-anchor="end">0.2</text>
<path d="M503.4 637.5H512.1" stroke="#333333" stroke-width="2.7"/>
<text x="496.7" y="647.5" font-size="25.4" fill="#4D4D4D" stroke="#4D4D4D" stroke-width="0.4" text-anchor="end">0.4</text>
<path d="M503.4 583.2H512.1" stroke="#333333" stroke-width="2.7"/>
<text x="496.7" y="593.2" font-size="25.4" fill="#4D4D4D" stroke="#4D4D4D" stroke-width="0.4" text-anchor="end">0.6</text>
<path d="M503.4 528.9H512.1" stroke="#333333" stroke-width="2.7"/>
<text x="496.7" y="538.9" font-size="25.4" fill="#4D4D4D" stroke="#4D4D4D" stroke-width="0.4" text-anchor="end">0.8</text>
<path d="M551.1 756.7V765.4" stroke="#333333" stroke-width="2.7"/>
<text transform="translate(569.7 794.6) rotate(-90)" font-size="25.4" fill="#4D4D4D" stroke="#4D4D4D" stroke-width="0.4" text-anchor="middle">Jun</text>
<path d="M604.7 756.7V765.4" stroke="#333333" stroke-width="2.7"/>
<text transform="translate(623.3 794.6) rotate(-90)" font-size="25.4" fill="#4D4D4D" stroke="#4D4D4D" stroke-width="0.4" text-anchor="middle">Jul</text>
<path d="M660.0 756.7V765.4" stroke="#333333" stroke-width="2.7"/>
<text transform="translate(678.6 794.6) rotate(-90)" font-size="25.4" fill="#4D4D4D" stroke="#4D4D4D" stroke-width="0.4" text-anchor="middle">Aug</text>
<path d="M715.4 756.7V765.4" stroke="#333333" stroke-width="2.7"/>
<text transform="translate(734.0 794.6) rotate(-90)" font-size="25.4" fill="#4D4D4D" stroke="#4D4D4D" stroke-width="0.4" text-anchor="middle">Sep</text>
<path d="M768.9 756.7V765.4" stroke="#333333" stroke-width="2.7"/>
<text transform="translate(787.5 794.6) rotate(-90)" font-size="25.4" fill="#4D4D4D" stroke="#4D4D4D" stroke-width="0.4" text-anchor="middle">Oct</text>
<text x="645.2" y="848.3" font-size="31.1" text-anchor="middle" fill="#000" stroke="#000" stroke-width="0.5">Date</text>
<text transform="translate(446.7 630.8) rotate(-90)" font-size="31.1" text-anchor="middle" fill="#000" stroke="#000" stroke-width="0.5">Disease Prevalence</text>
<text x="405.9" y="451.3" font-size="36.7" fill="#000" stroke="#000" stroke-width="0.5">c</text>
</g>
<g id="panel-d">
<rect x="918.1" y="455.5" width="266.0" height="48.3" fill="#D9D9D9" stroke="#262626" stroke-width="2.2"/>
<text x="1051.1" y="488.4" font-size="25.4" text-anchor="middle" fill="#1A1A1A" stroke="#1A1A1A" stroke-width="0.4">R</text>
<path d="M930.4 599.0V667.3" stroke="#000" stroke-opacity="0.2" stroke-width="3.4" stroke-linecap="round"/>
<path d="M930.4 610.8V693.0" stroke="#000" stroke-opacity="0.2" stroke-width="3.4" stroke-linecap="round"/>
<path d="M937.6 582.2V664.5" stroke="#000" stroke-opacity="0.2" stroke-width="3.4" stroke-linecap="round"/>
<path d="M937.6 591.1V688.8" stroke="#000" stroke-opacity="0.2" stroke-width="3.4" stroke-linecap="round"/>
<path d="M946.5 613.0V626.2" stroke="#000" stroke-opacity="0.2" stroke-width="3.4" stroke-linecap="round"/>
<path d="M946.5 620.5V705.6" stroke="#000" stroke-opacity="0.2" stroke-width="3.4" stroke-linecap="round"/>
<path d="M960.8 590.5V682.3" stroke="#000" stroke-opacity="0.2" stroke-width="3.4" stroke-linecap="round"/>
<path d="M964.3 590.5V682.3" stroke="#000" stroke-opacity="0.2" stroke-width="3.4" stroke-linecap="round"/>
<path d="M980.4 586.4V621.2" stroke="#000" stroke-opacity="0.2" stroke-width="3.4" stroke-linecap="round"/>
<path d="M980.4 613.8V691.6" stroke="#000" stroke-opacity="0.2" stroke-width="3.4" stroke-linecap="round"/>
<path d="M987.6 577.5V617.7" stroke="#000" stroke-opacity="0.2" stroke-width="3.4" stroke-linecap="round"/>
<path d="M987.6 629.0V701.4" stroke="#000" stroke-opacity="0.2" stroke-width="3.4" stroke-linecap="round"/>
<path d="M1005.4 596.2V631.0" stroke="#000" stroke-opacity="0.2" stroke-width="3.4" stroke-linecap="round"/>
<path d="M1005.4 632.2V694.4" stroke="#000" stroke-opacity="0.2" stroke-width="3.4" stroke-linecap="round"/>
<path d="M1017.9 604.6V644.9" stroke="#000" stroke-opacity="0.2" stroke-width="3.4" stroke-linecap="round"/>
<path d="M1017.9 645.8V704.2" stroke="#000" stroke-opacity="0.2" stroke-width="3.4" stroke-linecap="round"/>
<path d="M1026.8 608.8V655.9" stroke="#000" stroke-opacity="0.2" stroke-width="3.4" stroke-linecap="round"/>
<path d="M1026.8 654.1V715.3" stroke="#000" stroke-opacity="0.2" stroke-width="3.4" stroke-linecap="round"/>
<path d="M1042.9 608.8V658.6" stroke="#000" stroke-opacity="0.2" stroke-width="3.4" stroke-linecap="round"/>
<path d="M1042.9 660.9V726.5" stroke="#000" stroke-opacity="0.2" stroke-width="3.4" stroke-linecap="round"/>
<path d="M1057.2 624.1V673.7" stroke="#000" stroke-opacity="0.2" stroke-width="3.4" stroke-linecap="round"/>
<path d="M1057.2 690.0V732.1" stroke="#000" stroke-opacity="0.2" stroke-width="3.4" stroke-linecap="round"/>
<path d="M1073.3 625.5V664.1" stroke="#000" stroke-opacity="0.2" stroke-width="3.4" stroke-linecap="round"/>
<path d="M1073.3 684.4V730.7" stroke="#000" stroke-opacity="0.2" stroke-width="3.4" stroke-linecap="round"/>
<path d="M1092.9 659.1V686.5" stroke="#000" stroke-opacity="0.2" stroke-width="3.4" stroke-linecap="round"/>
<path d="M1092.9 699.8V722.3" stroke="#000" stroke-opacity="0.2" stroke-width="3.4" stroke-linecap="round"/>
<path d="M1101.8 691.2V708.7" stroke="#000" stroke-opacity="0.2" stroke-width="3.4" stroke-linecap="round"/>
<path d="M1101.8 712.7V737.7" stroke="#000" stroke-opacity="0.2" stroke-width="3.4" stroke-linecap="round"/>
<path d="M1117.9 694.0V708.6" stroke="#000" stroke-opacity="0.2" stroke-width="3.4" stroke-linecap="round"/>
<path d="M1117.9 712.7V737.7" stroke="#000" stroke-opacity="0.2" stroke-width="3.4" stroke-linecap="round"/>
<path d="M1126.8 696.8V718.3" stroke="#000" stroke-opacity="0.2" stroke-width="3.4" stroke-linecap="round"/>
<path d="M1126.8 709.5V744.7" stroke="#000" stroke-opacity="0.2" stroke-width="3.4" stroke-linecap="round"/>
<path d="M1142.9 674.4V721.1" stroke="#000" stroke-opacity="0.2" stroke-width="3.4" stroke-linecap="round"/>
<path d="M1142.9 725.0V733.5" stroke="#000" stroke-opacity="0.2" stroke-width="3.4" stroke-linecap="round"/>
<path d="M1157.2 674.4V721.1" stroke="#000" stroke-opacity="0.2" stroke-width="3.4" stroke-linecap="round"/>
<path d="M1171.5 664.0V717.5" stroke="#000" stroke-opacity="0.2" stroke-width="3.4" stroke-linecap="round"/>
<circle cx="930.4" cy="651.9" r="10.1" fill="#68228B" fill-opacity="0.75" stroke="#000" stroke-opacity="0.74" stroke-width="2.2"/>
<circle cx="930.4" cy="633.2" r="10.1" fill="#FFD700" fill-opacity="0.75" stroke="#000" stroke-opacity="0.74" stroke-width="2.2"/>
<circle cx="937.6" cy="639.9" r="10.1" fill="#68228B" fill-opacity="0.75" stroke="#000" stroke-opacity="0.74" stroke-width="2.2"/>
<circle cx="937.6" cy="623.4" r="10.1" fill="#FFD700" fill-opacity="0.75" stroke="#000" stroke-opacity="0.74" stroke-width="2.2"/>
<circle cx="946.5" cy="663.0" r="10.1" fill="#68228B" fill-opacity="0.75" stroke="#000" stroke-opacity="0.74" stroke-width="2.2"/>
<circle cx="946.5" cy="619.6" r="10.1" fill="#FFD700" fill-opacity="0.75" stroke="#000" stroke-opacity="0.74" stroke-width="2.2"/>
<circle cx="960.8" cy="636.4" r="10.1" fill="#68228B" fill-opacity="0.75" stroke="#000" stroke-opacity="0.74" stroke-width="2.2"/>
<circle cx="960.8" cy="613.6" r="10.1" fill="#FFD700" fill-opacity="0.75" stroke="#000" stroke-opacity="0.74" stroke-width="2.2"/>
<circle cx="964.3" cy="636.4" r="10.1" fill="#68228B" fill-opacity="0.75" stroke="#000" stroke-opacity="0.74" stroke-width="2.2"/>
<circle cx="964.3" cy="607.9" r="10.1" fill="#FFD700" fill-opacity="0.75" stroke="#000" stroke-opacity="0.74" stroke-width="2.2"/>
<circle cx="980.4" cy="652.7" r="10.1" fill="#68228B" fill-opacity="0.75" stroke="#000" stroke-opacity="0.74" stroke-width="2.2"/>
<circle cx="980.4" cy="603.8" r="10.1" fill="#FFD700" fill-opacity="0.75" stroke="#000" stroke-opacity="0.74" stroke-width="2.2"/>
<circle cx="987.6" cy="665.2" r="10.1" fill="#68228B" fill-opacity="0.75" stroke="#000" stroke-opacity="0.74" stroke-width="2.2"/>
<circle cx="987.6" cy="597.6" r="10.1" fill="#FFD700" fill-opacity="0.75" stroke="#000" stroke-opacity="0.74" stroke-width="2.2"/>
<circle cx="1005.4" cy="663.3" r="10.1" fill="#68228B" fill-opacity="0.75" stroke="#000" stroke-opacity="0.74" stroke-width="2.2"/>
<circle cx="1005.4" cy="613.6" r="10.1" fill="#FFD700" fill-opacity="0.75" stroke="#000" stroke-opacity="0.74" stroke-width="2.2"/>
<circle cx="1017.9" cy="675.0" r="10.1" fill="#68228B" fill-opacity="0.75" stroke="#000" stroke-opacity="0.74" stroke-width="2.2"/>
<circle cx="1017.9" cy="624.7" r="10.1" fill="#FFD700" fill-opacity="0.75" stroke="#000" stroke-opacity="0.74" stroke-width="2.2"/>
<circle cx="1026.8" cy="684.7" r="10.1" fill="#68228B" fill-opacity="0.75" stroke="#000" stroke-opacity="0.74" stroke-width="2.2"/>
<circle cx="1026.8" cy="632.3" r="10.1" fill="#FFD700" fill-opacity="0.75" stroke="#000" stroke-opacity="0.74" stroke-width="2.2"/>
<circle cx="1042.9" cy="693.7" r="10.1" fill="#68228B" fill-opacity="0.75" stroke="#000" stroke-opacity="0.74" stroke-width="2.2"/>
<circle cx="1042.9" cy="633.7" r="10.1" fill="#FFD700" fill-opacity="0.75" stroke="#000" stroke-opacity="0.74" stroke-width="2.2"/>
<circle cx="1057.2" cy="711.1" r="10.1" fill="#68228B" fill-opacity="0.75" stroke="#000" stroke-opacity="0.74" stroke-width="2.2"/>
<circle cx="1057.2" cy="648.9" r="10.1" fill="#FFD700" fill-opacity="0.75" stroke="#000" stroke-opacity="0.74" stroke-width="2.2"/>
<circle cx="1073.3" cy="707.5" r="10.1" fill="#68228B" fill-opacity="0.75" stroke="#000" stroke-opacity="0.74" stroke-width="2.2"/>
<circle cx="1073.3" cy="644.8" r="10.1" fill="#FFD700" fill-opacity="0.75" stroke="#000" stroke-opacity="0.74" stroke-width="2.2"/>
<circle cx="1092.9" cy="711.1" r="10.1" fill="#68228B" fill-opacity="0.75" stroke="#000" stroke-opacity="0.74" stroke-width="2.2"/>
<circle cx="1092.9" cy="672.8" r="10.1" fill="#FFD700" fill-opacity="0.75" stroke="#000" stroke-opacity="0.74" stroke-width="2.2"/>
<circle cx="1101.8" cy="725.2" r="10.1" fill="#68228B" fill-opacity="0.75" stroke="#000" stroke-opacity="0.74" stroke-width="2.2"/>
<circle cx="1101.8" cy="699.9" r="10.1" fill="#FFD700" fill-opacity="0.75" stroke="#000" stroke-opacity="0.74" stroke-width="2.2"/>
<circle cx="1117.9" cy="725.2" r="10.1" fill="#68228B" fill-opacity="0.75" stroke="#000" stroke-opacity="0.74" stroke-width="2.2"/>
<circle cx="1117.9" cy="701.3" r="10.1" fill="#FFD700" fill-opacity="0.75" stroke="#000" stroke-opacity="0.74" stroke-width="2.2"/>
<circle cx="1126.8" cy="727.1" r="10.1" fill="#68228B" fill-opacity="0.75" stroke="#000" stroke-opacity="0.74" stroke-width="2.2"/>
<circle cx="1126.8" cy="707.5" r="10.1" fill="#FFD700" fill-opacity="0.75" stroke="#000" stroke-opacity="0.74" stroke-width="2.2"/>
<circle cx="1142.9" cy="697.8" r="10.1" fill="#68228B" fill-opacity="0.75" stroke="#000" stroke-opacity="0.74" stroke-width="2.2"/>
<circle cx="1142.9" cy="729.3" r="10.1" fill="#FFD700" fill-opacity="0.75" stroke="#000" stroke-opacity="0.74" stroke-width="2.2"/>
<circle cx="1157.2" cy="697.8" r="10.1" fill="#68228B" fill-opacity="0.75" stroke="#000" stroke-opacity="0.74" stroke-width="2.2"/>
<circle cx="1157.2" cy="736.3" r="10.1" fill="#FFD700" fill-opacity="0.75" stroke="#000" stroke-opacity="0.74" stroke-width="2.2"/>
<circle cx="1171.5" cy="690.7" r="10.1" fill="#68228B" fill-opacity="0.75" stroke="#000" stroke-opacity="0.74" stroke-width="2.2"/>
<circle cx="1171.5" cy="742.8" r="10.1" fill="#FFD700" fill-opacity="0.75" stroke="#000" stroke-opacity="0.74" stroke-width="2.2"/>
<rect x="918.1" y="503.8" width="266.0" height="252.9" fill="none" stroke="#262626" stroke-width="2.0"/>
<path d="M917.1 503.8H1185.1" stroke="#333333" stroke-width="3.4"/>
<path d="M909.4 746.1H918.1" stroke="#333333" stroke-width="2.7"/>
<text x="902.7" y="756.1" font-size="25.4" fill="#4D4D4D" stroke="#4D4D4D" stroke-width="0.4" text-anchor="end">0.0</text>
<path d="M909.4 691.8H918.1" stroke="#333333" stroke-width="2.7"/>
<text x="902.7" y="701.8" font-size="25.4" fill="#4D4D4D" stroke="#4D4D4D" stroke-width="0.4" text-anchor="end">0.2</text>
<path d="M909.4 637.5H918.1" stroke="#333333" stroke-width="2.7"/>
<text x="902.7" y="647.5" font-size="25.4" fill="#4D4D4D" stroke="#4D4D4D" stroke-width="0.4" text-anchor="end">0.4</text>
<path d="M909.4 583.2H918.1" stroke="#333333" stroke-width="2.7"/>
<text x="902.7" y="593.2" font-size="25.4" fill="#4D4D4D" stroke="#4D4D4D" stroke-width="0.4" text-anchor="end">0.6</text>
<path d="M909.4 528.9H918.1" stroke="#333333" stroke-width="2.7"/>
<text x="902.7" y="538.9" font-size="25.4" fill="#4D4D4D" stroke="#4D4D4D" stroke-width="0.4" text-anchor="end">0.8</text>
<path d="M957.2 756.7V765.4" stroke="#333333" stroke-width="2.7"/>
<text transform="translate(975.8 794.6) rotate(-90)" font-size="25.4" fill="#4D4D4D" stroke="#4D4D4D" stroke-width="0.4" text-anchor="middle">Jun</text>
<path d="M1010.8 756.7V765.4" stroke="#333333" stroke-width="2.7"/>
<text transform="translate(1029.4 794.6) rotate(-90)" font-size="25.4" fill="#4D4D4D" stroke="#4D4D4D" stroke-width="0.4" text-anchor="middle">Jul</text>
<path d="M1066.1 756.7V765.4" stroke="#333333" stroke-width="2.7"/>
<text transform="translate(1084.7 794.6) rotate(-90)" font-size="25.4" fill="#4D4D4D" stroke="#4D4D4D" stroke-width="0.4" text-anchor="middle">Aug</text>
<path d="M1121.5 756.7V765.4" stroke="#333333" stroke-width="2.7"/>
<text transform="translate(1140.1 794.6) rotate(-90)" font-size="25.4" fill="#4D4D4D" stroke="#4D4D4D" stroke-width="0.4" text-anchor="middle">Sep</text>
<path d="M1175.0 756.7V765.4" stroke="#333333" stroke-width="2.7"/>
<text transform="translate(1193.6 794.6) rotate(-90)" font-size="25.4" fill="#4D4D4D" stroke="#4D4D4D" stroke-width="0.4" text-anchor="middle">Oct</text>
<text x="1051.1" y="848.3" font-size="31.1" text-anchor="middle" fill="#000" stroke="#000" stroke-width="0.5">Date</text>
<text transform="translate(852.7 630.8) rotate(-90)" font-size="31.1" text-anchor="middle" fill="#000" stroke="#000" stroke-width="0.5">Disease Prevalence</text>
<text x="809.8" y="451.3" font-size="36.7" fill="#000" stroke="#000" stroke-width="0.5">d</text>
</g>
<g id="panel-e">
<rect x="1324.2" y="455.5" width="266.0" height="48.3" fill="#D9D9D9" stroke="#262626" stroke-width="2.2"/>
<text x="1457.2" y="488.4" font-size="25.4" text-anchor="middle" fill="#1A1A1A" stroke="#1A1A1A" stroke-width="0.4">B</text>
<path d="M1336.3 648.1V670.9" stroke="#000" stroke-opacity="0.2" stroke-width="3.4" stroke-linecap="round"/>
<path d="M1343.5 633.9V662.8" stroke="#000" stroke-opacity="0.2" stroke-width="3.4" stroke-linecap="round"/>
<path d="M1343.5 706.6V730.7" stroke="#000" stroke-opacity="0.2" stroke-width="3.4" stroke-linecap="round"/>
<path d="M1352.4 566.0V641.6" stroke="#000" stroke-opacity="0.2" stroke-width="3.4" stroke-linecap="round"/>
<path d="M1352.4 719.5V746.1" stroke="#000" stroke-opacity="0.2" stroke-width="3.4" stroke-linecap="round"/>
<path d="M1366.7 701.3V746.4" stroke="#000" stroke-opacity="0.2" stroke-width="3.4" stroke-linecap="round"/>
<path d="M1370.2 701.3V746.4" stroke="#000" stroke-opacity="0.2" stroke-width="3.4" stroke-linecap="round"/>
<path d="M1386.3 607.4V630.7" stroke="#000" stroke-opacity="0.2" stroke-width="3.4" stroke-linecap="round"/>
<path d="M1386.3 672.2V729.3" stroke="#000" stroke-opacity="0.2" stroke-width="3.4" stroke-linecap="round"/>
<path d="M1393.5 635.4V721.0" stroke="#000" stroke-opacity="0.2" stroke-width="3.4" stroke-linecap="round"/>
<path d="M1411.3 635.4V721.0" stroke="#000" stroke-opacity="0.2" stroke-width="3.4" stroke-linecap="round"/>
<path d="M1423.8 621.4V698.7" stroke="#000" stroke-opacity="0.2" stroke-width="3.4" stroke-linecap="round"/>
<path d="M1432.7 621.4V698.7" stroke="#000" stroke-opacity="0.2" stroke-width="3.4" stroke-linecap="round"/>
<path d="M1448.8 635.4V721.0" stroke="#000" stroke-opacity="0.2" stroke-width="3.4" stroke-linecap="round"/>
<path d="M1463.1 611.2V719.2" stroke="#000" stroke-opacity="0.2" stroke-width="3.4" stroke-linecap="round"/>
<path d="M1479.2 611.2V719.2" stroke="#000" stroke-opacity="0.2" stroke-width="3.4" stroke-linecap="round"/>
<path d="M1498.8 610.5V719.9" stroke="#000" stroke-opacity="0.2" stroke-width="3.4" stroke-linecap="round"/>
<path d="M1507.7 610.2V699.6" stroke="#000" stroke-opacity="0.2" stroke-width="3.4" stroke-linecap="round"/>
<path d="M1507.7 615.0V718.1" stroke="#000" stroke-opacity="0.2" stroke-width="3.4" stroke-linecap="round"/>
<path d="M1523.8 611.8V719.7" stroke="#000" stroke-opacity="0.2" stroke-width="3.4" stroke-linecap="round"/>
<path d="M1532.7 607.4V661.7" stroke="#000" stroke-opacity="0.2" stroke-width="3.4" stroke-linecap="round"/>
<path d="M1532.7 665.2V746.1" stroke="#000" stroke-opacity="0.2" stroke-width="3.4" stroke-linecap="round"/>
<path d="M1548.8 636.7V658.4" stroke="#000" stroke-opacity="0.2" stroke-width="3.4" stroke-linecap="round"/>
<path d="M1548.8 648.4V726.5" stroke="#000" stroke-opacity="0.2" stroke-width="3.4" stroke-linecap="round"/>
<path d="M1563.1 646.9V726.9" stroke="#000" stroke-opacity="0.2" stroke-width="3.4" stroke-linecap="round"/>
<path d="M1577.4 671.9V729.6" stroke="#000" stroke-opacity="0.2" stroke-width="3.4" stroke-linecap="round"/>
<circle cx="1336.3" cy="746.1" r="10.1" fill="#68228B" fill-opacity="0.75" stroke="#000" stroke-opacity="0.74" stroke-width="2.2"/>
<circle cx="1336.3" cy="659.5" r="10.1" fill="#FFD700" fill-opacity="0.75" stroke="#000" stroke-opacity="0.74" stroke-width="2.2"/>
<circle cx="1343.5" cy="718.7" r="10.1" fill="#68228B" fill-opacity="0.75" stroke="#000" stroke-opacity="0.74" stroke-width="2.2"/>
<circle cx="1343.5" cy="648.4" r="10.1" fill="#FFD700" fill-opacity="0.75" stroke="#000" stroke-opacity="0.74" stroke-width="2.2"/>
<circle cx="1352.4" cy="732.8" r="10.1" fill="#68228B" fill-opacity="0.75" stroke="#000" stroke-opacity="0.74" stroke-width="2.2"/>
<circle cx="1352.4" cy="603.8" r="10.1" fill="#FFD700" fill-opacity="0.75" stroke="#000" stroke-opacity="0.74" stroke-width="2.2"/>
<circle cx="1366.7" cy="723.8" r="10.1" fill="#68228B" fill-opacity="0.75" stroke="#000" stroke-opacity="0.74" stroke-width="2.2"/>
<circle cx="1366.7" cy="632.1" r="10.1" fill="#FFD700" fill-opacity="0.75" stroke="#000" stroke-opacity="0.74" stroke-width="2.2"/>
<circle cx="1370.2" cy="723.8" r="10.1" fill="#68228B" fill-opacity="0.75" stroke="#000" stroke-opacity="0.74" stroke-width="2.2"/>
<circle cx="1370.2" cy="626.1" r="10.1" fill="#FFD700" fill-opacity="0.75" stroke="#000" stroke-opacity="0.74" stroke-width="2.2"/>
<circle cx="1386.3" cy="700.8" r="10.1" fill="#68228B" fill-opacity="0.75" stroke="#000" stroke-opacity="0.74" stroke-width="2.2"/>
<circle cx="1386.3" cy="619.0" r="10.1" fill="#FFD700" fill-opacity="0.75" stroke="#000" stroke-opacity="0.74" stroke-width="2.2"/>
<circle cx="1393.5" cy="678.2" r="10.1" fill="#68228B" fill-opacity="0.75" stroke="#000" stroke-opacity="0.74" stroke-width="2.2"/>
<circle cx="1393.5" cy="619.0" r="10.1" fill="#FFD700" fill-opacity="0.75" stroke="#000" stroke-opacity="0.74" stroke-width="2.2"/>
<circle cx="1411.3" cy="678.2" r="10.1" fill="#68228B" fill-opacity="0.75" stroke="#000" stroke-opacity="0.74" stroke-width="2.2"/>
<circle cx="1411.3" cy="603.8" r="10.1" fill="#FFD700" fill-opacity="0.75" stroke="#000" stroke-opacity="0.74" stroke-width="2.2"/>
<circle cx="1423.8" cy="660.0" r="10.1" fill="#68228B" fill-opacity="0.75" stroke="#000" stroke-opacity="0.74" stroke-width="2.2"/>
<circle cx="1423.8" cy="607.4" r="10.1" fill="#FFD700" fill-opacity="0.75" stroke="#000" stroke-opacity="0.74" stroke-width="2.2"/>
<circle cx="1432.7" cy="660.0" r="10.1" fill="#68228B" fill-opacity="0.75" stroke="#000" stroke-opacity="0.74" stroke-width="2.2"/>
<circle cx="1432.7" cy="597.3" r="10.1" fill="#FFD700" fill-opacity="0.75" stroke="#000" stroke-opacity="0.74" stroke-width="2.2"/>
<circle cx="1448.8" cy="678.2" r="10.1" fill="#68228B" fill-opacity="0.75" stroke="#000" stroke-opacity="0.74" stroke-width="2.2"/>
<circle cx="1448.8" cy="587.0" r="10.1" fill="#FFD700" fill-opacity="0.75" stroke="#000" stroke-opacity="0.74" stroke-width="2.2"/>
<circle cx="1463.1" cy="665.2" r="10.1" fill="#68228B" fill-opacity="0.75" stroke="#000" stroke-opacity="0.74" stroke-width="2.2"/>
<circle cx="1463.1" cy="627.5" r="10.1" fill="#FFD700" fill-opacity="0.75" stroke="#000" stroke-opacity="0.74" stroke-width="2.2"/>
<circle cx="1479.2" cy="665.2" r="10.1" fill="#68228B" fill-opacity="0.75" stroke="#000" stroke-opacity="0.74" stroke-width="2.2"/>
<circle cx="1479.2" cy="640.8" r="10.1" fill="#FFD700" fill-opacity="0.75" stroke="#000" stroke-opacity="0.74" stroke-width="2.2"/>
<circle cx="1498.8" cy="665.2" r="10.1" fill="#68228B" fill-opacity="0.75" stroke="#000" stroke-opacity="0.74" stroke-width="2.2"/>
<circle cx="1498.8" cy="637.8" r="10.1" fill="#FFD700" fill-opacity="0.75" stroke="#000" stroke-opacity="0.74" stroke-width="2.2"/>
<circle cx="1507.7" cy="666.6" r="10.1" fill="#68228B" fill-opacity="0.75" stroke="#000" stroke-opacity="0.74" stroke-width="2.2"/>
<circle cx="1507.7" cy="654.9" r="10.1" fill="#FFD700" fill-opacity="0.75" stroke="#000" stroke-opacity="0.74" stroke-width="2.2"/>
<circle cx="1523.8" cy="665.7" r="10.1" fill="#68228B" fill-opacity="0.75" stroke="#000" stroke-opacity="0.74" stroke-width="2.2"/>
<circle cx="1523.8" cy="667.4" r="10.1" fill="#FFD700" fill-opacity="0.75" stroke="#000" stroke-opacity="0.74" stroke-width="2.2"/>
<circle cx="1532.7" cy="705.6" r="10.1" fill="#68228B" fill-opacity="0.75" stroke="#000" stroke-opacity="0.74" stroke-width="2.2"/>
<circle cx="1532.7" cy="634.5" r="10.1" fill="#FFD700" fill-opacity="0.75" stroke="#000" stroke-opacity="0.74" stroke-width="2.2"/>
<circle cx="1548.8" cy="687.5" r="10.1" fill="#68228B" fill-opacity="0.75" stroke="#000" stroke-opacity="0.74" stroke-width="2.2"/>
<circle cx="1548.8" cy="647.5" r="10.1" fill="#FFD700" fill-opacity="0.75" stroke="#000" stroke-opacity="0.74" stroke-width="2.2"/>
<circle cx="1563.1" cy="686.9" r="10.1" fill="#68228B" fill-opacity="0.75" stroke="#000" stroke-opacity="0.74" stroke-width="2.2"/>
<circle cx="1563.1" cy="685.3" r="10.1" fill="#FFD700" fill-opacity="0.75" stroke="#000" stroke-opacity="0.74" stroke-width="2.2"/>
<circle cx="1577.4" cy="700.8" r="10.1" fill="#68228B" fill-opacity="0.75" stroke="#000" stroke-opacity="0.74" stroke-width="2.2"/>
<circle cx="1577.4" cy="705.6" r="10.1" fill="#FFD700" fill-opacity="0.75" stroke="#000" stroke-opacity="0.74" stroke-width="2.2"/>
<rect x="1324.2" y="503.8" width="266.0" height="252.9" fill="none" stroke="#262626" stroke-width="2.0"/>
<path d="M1323.2 503.8H1591.2" stroke="#333333" stroke-width="3.4"/>
<path d="M1315.5 746.1H1324.2" stroke="#333333" stroke-width="2.7"/>
<text x="1308.8" y="756.1" font-size="25.4" fill="#4D4D4D" stroke="#4D4D4D" stroke-width="0.4" text-anchor="end">0.0</text>
<path d="M1315.5 691.8H1324.2" stroke="#333333" stroke-width="2.7"/>
<text x="1308.8" y="701.8" font-size="25.4" fill="#4D4D4D" stroke="#4D4D4D" stroke-width="0.4" text-anchor="end">0.2</text>
<path d="M1315.5 637.5H1324.2" stroke="#333333" stroke-width="2.7"/>
<text x="1308.8" y="647.5" font-size="25.4" fill="#4D4D4D" stroke="#4D4D4D" stroke-width="0.4" text-anchor="end">0.4</text>
<path d="M1315.5 583.2H1324.2" stroke="#333333" stroke-width="2.7"/>
<text x="1308.8" y="593.2" font-size="25.4" fill="#4D4D4D" stroke="#4D4D4D" stroke-width="0.4" text-anchor="end">0.6</text>
<path d="M1315.5 528.9H1324.2" stroke="#333333" stroke-width="2.7"/>
<text x="1308.8" y="538.9" font-size="25.4" fill="#4D4D4D" stroke="#4D4D4D" stroke-width="0.4" text-anchor="end">0.8</text>
<path d="M1363.1 756.7V765.4" stroke="#333333" stroke-width="2.7"/>
<text transform="translate(1381.7 794.6) rotate(-90)" font-size="25.4" fill="#4D4D4D" stroke="#4D4D4D" stroke-width="0.4" text-anchor="middle">Jun</text>
<path d="M1416.7 756.7V765.4" stroke="#333333" stroke-width="2.7"/>
<text transform="translate(1435.3 794.6) rotate(-90)" font-size="25.4" fill="#4D4D4D" stroke="#4D4D4D" stroke-width="0.4" text-anchor="middle">Jul</text>
<path d="M1472.0 756.7V765.4" stroke="#333333" stroke-width="2.7"/>
<text transform="translate(1490.6 794.6) rotate(-90)" font-size="25.4" fill="#4D4D4D" stroke="#4D4D4D" stroke-width="0.4" text-anchor="middle">Aug</text>
<path d="M1527.4 756.7V765.4" stroke="#333333" stroke-width="2.7"/>
<text transform="translate(1546.0 794.6) rotate(-90)" font-size="25.4" fill="#4D4D4D" stroke="#4D4D4D" stroke-width="0.4" text-anchor="middle">Sep</text>
<path d="M1580.9 756.7V765.4" stroke="#333333" stroke-width="2.7"/>
<text transform="translate(1599.5 794.6) rotate(-90)" font-size="25.4" fill="#4D4D4D" stroke="#4D4D4D" stroke-width="0.4" text-anchor="middle">Oct</text>
<text x="1457.2" y="848.3" font-size="31.1" text-anchor="middle" fill="#000" stroke="#000" stroke-width="0.5">Date</text>
<text transform="translate(1258.8 630.8) rotate(-90)" font-size="31.1" text-anchor="middle" fill="#000" stroke="#000" stroke-width="0.5">Disease Prevalence</text>
<text x="1216.1" y="451.3" font-size="36.7" fill="#000" stroke="#000" stroke-width="0.5">e</text>
</g>
<g id="panel-f">
<rect x="1720.2" y="455.5" width="266.0" height="48.3" fill="#D9D9D9" stroke="#262626" stroke-width="2.2"/>
<text x="1853.2" y="488.4" font-size="25.4" text-anchor="middle" fill="#1A1A1A" stroke="#1A1A1A" stroke-width="0.4">K</text>
<path d="M1748.4 708.0V746.1" stroke="#000" stroke-opacity="0.2" stroke-width="3.4" stroke-linecap="round"/>
<path d="M1762.7 641.0V718.2" stroke="#000" stroke-opacity="0.2" stroke-width="3.4" stroke-linecap="round"/>
<path d="M1766.2 653.5V692.1" stroke="#000" stroke-opacity="0.2" stroke-width="3.4" stroke-linecap="round"/>
<path d="M1766.2 664.1V726.5" stroke="#000" stroke-opacity="0.2" stroke-width="3.4" stroke-linecap="round"/>
<path d="M1782.3 580.4V709.3" stroke="#000" stroke-opacity="0.2" stroke-width="3.4" stroke-linecap="round"/>
<path d="M1789.5 604.6V656.7" stroke="#000" stroke-opacity="0.2" stroke-width="3.4" stroke-linecap="round"/>
<path d="M1807.3 579.4V641.3" stroke="#000" stroke-opacity="0.2" stroke-width="3.4" stroke-linecap="round"/>
<path d="M1819.8 565.5V632.9" stroke="#000" stroke-opacity="0.2" stroke-width="3.4" stroke-linecap="round"/>
<path d="M1828.7 559.9V620.3" stroke="#000" stroke-opacity="0.2" stroke-width="3.4" stroke-linecap="round"/>
<path d="M1844.8 543.1V602.2" stroke="#000" stroke-opacity="0.2" stroke-width="3.4" stroke-linecap="round"/>
<path d="M1859.1 541.7V575.6" stroke="#000" stroke-opacity="0.2" stroke-width="3.4" stroke-linecap="round"/>
<path d="M1875.2 541.7V568.7" stroke="#000" stroke-opacity="0.2" stroke-width="3.4" stroke-linecap="round"/>
<path d="M1894.8 524.9V639.3" stroke="#000" stroke-opacity="0.2" stroke-width="3.4" stroke-linecap="round"/>
<path d="M1903.7 575.2V597.7" stroke="#000" stroke-opacity="0.2" stroke-width="3.4" stroke-linecap="round"/>
<path d="M1903.7 579.9V663.7" stroke="#000" stroke-opacity="0.2" stroke-width="3.4" stroke-linecap="round"/>
<path d="M1919.8 579.9V663.7" stroke="#000" stroke-opacity="0.2" stroke-width="3.4" stroke-linecap="round"/>
<path d="M1928.7 524.9V639.3" stroke="#000" stroke-opacity="0.2" stroke-width="3.4" stroke-linecap="round"/>
<path d="M1944.8 524.9V639.3" stroke="#000" stroke-opacity="0.2" stroke-width="3.4" stroke-linecap="round"/>
<path d="M1959.1 581.7V674.3" stroke="#000" stroke-opacity="0.2" stroke-width="3.4" stroke-linecap="round"/>
<path d="M1973.4 558.3V650.9" stroke="#000" stroke-opacity="0.2" stroke-width="3.4" stroke-linecap="round"/>
<rect x="1819.0" y="639.8" width="1.6" height="2.4" fill="#000" fill-opacity="0.2"/>
<rect x="1827.9" y="639.8" width="1.6" height="2.4" fill="#000" fill-opacity="0.2"/>
<rect x="1844.0" y="639.8" width="1.6" height="2.4" fill="#000" fill-opacity="0.2"/>
<rect x="1858.3" y="621.8" width="1.6" height="2.4" fill="#000" fill-opacity="0.2"/>
<rect x="1874.4" y="621.8" width="1.6" height="2.4" fill="#000" fill-opacity="0.2"/>
<circle cx="1732.3" cy="746.1" r="10.1" fill="#68228B" fill-opacity="0.75" stroke="#000" stroke-opacity="0.74" stroke-width="2.2"/>
<circle cx="1732.3" cy="727.9" r="10.1" fill="#FFD700" fill-opacity="0.75" stroke="#000" stroke-opacity="0.74" stroke-width="2.2"/>
<circle cx="1739.5" cy="729.3" r="10.1" fill="#68228B" fill-opacity="0.75" stroke="#000" stroke-opacity="0.74" stroke-width="2.2"/>
<circle cx="1739.5" cy="713.2" r="10.1" fill="#FFD700" fill-opacity="0.75" stroke="#000" stroke-opacity="0.74" stroke-width="2.2"/>
<circle cx="1748.4" cy="723.8" r="10.1" fill="#68228B" fill-opacity="0.75" stroke="#000" stroke-opacity="0.74" stroke-width="2.2"/>
<circle cx="1748.4" cy="700.5" r="10.1" fill="#FFD700" fill-opacity="0.75" stroke="#000" stroke-opacity="0.74" stroke-width="2.2"/>
<circle cx="1762.7" cy="679.6" r="10.1" fill="#68228B" fill-opacity="0.75" stroke="#000" stroke-opacity="0.74" stroke-width="2.2"/>
<circle cx="1762.7" cy="679.0" r="10.1" fill="#FFD700" fill-opacity="0.75" stroke="#000" stroke-opacity="0.74" stroke-width="2.2"/>
<circle cx="1766.2" cy="695.3" r="10.1" fill="#68228B" fill-opacity="0.75" stroke="#000" stroke-opacity="0.74" stroke-width="2.2"/>
<circle cx="1766.2" cy="672.8" r="10.1" fill="#FFD700" fill-opacity="0.75" stroke="#000" stroke-opacity="0.74" stroke-width="2.2"/>
<circle cx="1782.3" cy="644.8" r="10.1" fill="#68228B" fill-opacity="0.75" stroke="#000" stroke-opacity="0.74" stroke-width="2.2"/>
<circle cx="1782.3" cy="644.8" r="10.1" fill="#FFD700" fill-opacity="0.75" stroke="#000" stroke-opacity="0.74" stroke-width="2.2"/>
<circle cx="1789.5" cy="576.4" r="10.1" fill="#68228B" fill-opacity="0.75" stroke="#000" stroke-opacity="0.74" stroke-width="2.2"/>
<circle cx="1789.5" cy="631.0" r="10.1" fill="#FFD700" fill-opacity="0.75" stroke="#000" stroke-opacity="0.74" stroke-width="2.2"/>
<circle cx="1807.3" cy="576.4" r="10.1" fill="#68228B" fill-opacity="0.75" stroke="#000" stroke-opacity="0.74" stroke-width="2.2"/>
<circle cx="1807.3" cy="610.1" r="10.1" fill="#FFD700" fill-opacity="0.75" stroke="#000" stroke-opacity="0.74" stroke-width="2.2"/>
<circle cx="1819.8" cy="576.4" r="10.1" fill="#68228B" fill-opacity="0.75" stroke="#000" stroke-opacity="0.74" stroke-width="2.2"/>
<circle cx="1819.8" cy="598.1" r="10.1" fill="#FFD700" fill-opacity="0.75" stroke="#000" stroke-opacity="0.74" stroke-width="2.2"/>
<circle cx="1828.7" cy="575.9" r="10.1" fill="#68228B" fill-opacity="0.75" stroke="#000" stroke-opacity="0.74" stroke-width="2.2"/>
<circle cx="1828.7" cy="590.3" r="10.1" fill="#FFD700" fill-opacity="0.75" stroke="#000" stroke-opacity="0.74" stroke-width="2.2"/>
<circle cx="1844.8" cy="575.9" r="10.1" fill="#68228B" fill-opacity="0.75" stroke="#000" stroke-opacity="0.74" stroke-width="2.2"/>
<circle cx="1844.8" cy="572.3" r="10.1" fill="#FFD700" fill-opacity="0.75" stroke="#000" stroke-opacity="0.74" stroke-width="2.2"/>
<circle cx="1859.1" cy="559.6" r="10.1" fill="#68228B" fill-opacity="0.75" stroke="#000" stroke-opacity="0.74" stroke-width="2.2"/>
<circle cx="1859.1" cy="559.0" r="10.1" fill="#FFD700" fill-opacity="0.75" stroke="#000" stroke-opacity="0.74" stroke-width="2.2"/>
<circle cx="1875.2" cy="560.4" r="10.1" fill="#68228B" fill-opacity="0.75" stroke="#000" stroke-opacity="0.74" stroke-width="2.2"/>
<circle cx="1875.2" cy="556.9" r="10.1" fill="#FFD700" fill-opacity="0.75" stroke="#000" stroke-opacity="0.74" stroke-width="2.2"/>
<circle cx="1894.8" cy="582.1" r="10.1" fill="#68228B" fill-opacity="0.75" stroke="#000" stroke-opacity="0.74" stroke-width="2.2"/>
<circle cx="1894.8" cy="560.4" r="10.1" fill="#FFD700" fill-opacity="0.75" stroke="#000" stroke-opacity="0.74" stroke-width="2.2"/>
<circle cx="1903.7" cy="621.8" r="10.1" fill="#68228B" fill-opacity="0.75" stroke="#000" stroke-opacity="0.74" stroke-width="2.2"/>
<circle cx="1903.7" cy="586.5" r="10.1" fill="#FFD700" fill-opacity="0.75" stroke="#000" stroke-opacity="0.74" stroke-width="2.2"/>
<circle cx="1919.8" cy="621.8" r="10.1" fill="#68228B" fill-opacity="0.75" stroke="#000" stroke-opacity="0.74" stroke-width="2.2"/>
<circle cx="1919.8" cy="569.4" r="10.1" fill="#FFD700" fill-opacity="0.75" stroke="#000" stroke-opacity="0.74" stroke-width="2.2"/>
<circle cx="1928.7" cy="582.1" r="10.1" fill="#68228B" fill-opacity="0.75" stroke="#000" stroke-opacity="0.74" stroke-width="2.2"/>
<circle cx="1928.7" cy="563.1" r="10.1" fill="#FFD700" fill-opacity="0.75" stroke="#000" stroke-opacity="0.74" stroke-width="2.2"/>
<circle cx="1944.8" cy="582.1" r="10.1" fill="#68228B" fill-opacity="0.75" stroke="#000" stroke-opacity="0.74" stroke-width="2.2"/>
<circle cx="1944.8" cy="593.5" r="10.1" fill="#FFD700" fill-opacity="0.75" stroke="#000" stroke-opacity="0.74" stroke-width="2.2"/>
<circle cx="1959.1" cy="628.0" r="10.1" fill="#68228B" fill-opacity="0.75" stroke="#000" stroke-opacity="0.74" stroke-width="2.2"/>
<circle cx="1959.1" cy="615.8" r="10.1" fill="#FFD700" fill-opacity="0.75" stroke="#000" stroke-opacity="0.74" stroke-width="2.2"/>
<circle cx="1973.4" cy="604.6" r="10.1" fill="#68228B" fill-opacity="0.75" stroke="#000" stroke-opacity="0.74" stroke-width="2.2"/>
<circle cx="1973.4" cy="633.2" r="10.1" fill="#FFD700" fill-opacity="0.75" stroke="#000" stroke-opacity="0.74" stroke-width="2.2"/>
<rect x="1720.2" y="503.8" width="266.0" height="252.9" fill="none" stroke="#262626" stroke-width="2.0"/>
<path d="M1719.2 503.8H1987.2" stroke="#333333" stroke-width="3.4"/>
<path d="M1711.5 746.1H1720.2" stroke="#333333" stroke-width="2.7"/>
<text x="1704.8" y="756.1" font-size="25.4" fill="#4D4D4D" stroke="#4D4D4D" stroke-width="0.4" text-anchor="end">0.0</text>
<path d="M1711.5 691.8H1720.2" stroke="#333333" stroke-width="2.7"/>
<text x="1704.8" y="701.8" font-size="25.4" fill="#4D4D4D" stroke="#4D4D4D" stroke-width="0.4" text-anchor="end">0.2</text>
<path d="M1711.5 637.5H1720.2" stroke="#333333" stroke-width="2.7"/>
<text x="1704.8" y="647.5" font-size="25.4" fill="#4D4D4D" stroke="#4D4D4D" stroke-width="0.4" text-anchor="end">0.4</text>
<path d="M1711.5 583.2H1720.2" stroke="#333333" stroke-width="2.7"/>
<text x="1704.8" y="593.2" font-size="25.4" fill="#4D4D4D" stroke="#4D4D4D" stroke-width="0.4" text-anchor="end">0.6</text>
<path d="M1711.5 528.9H1720.2" stroke="#333333" stroke-width="2.7"/>
<text x="1704.8" y="538.9" font-size="25.4" fill="#4D4D4D" stroke="#4D4D4D" stroke-width="0.4" text-anchor="end">0.8</text>
<path d="M1759.1 756.7V765.4" stroke="#333333" stroke-width="2.7"/>
<text transform="translate(1777.7 794.6) rotate(-90)" font-size="25.4" fill="#4D4D4D" stroke="#4D4D4D" stroke-width="0.4" text-anchor="middle">Jun</text>
<path d="M1812.7 756.7V765.4" stroke="#333333" stroke-width="2.7"/>
<text transform="translate(1831.3 794.6) rotate(-90)" font-size="25.4" fill="#4D4D4D" stroke="#4D4D4D" stroke-width="0.4" text-anchor="middle">Jul</text>
<path d="M1868.0 756.7V765.4" stroke="#333333" stroke-width="2.7"/>
<text transform="translate(1886.6 794.6) rotate(-90)" font-size="25.4" fill="#4D4D4D" stroke="#4D4D4D" stroke-width="0.4" text-anchor="middle">Aug</text>
<path d="M1923.4 756.7V765.4" stroke="#333333" stroke-width="2.7"/>
<text transform="translate(1942.0 794.6) rotate(-90)" font-size="25.4" fill="#4D4D4D" stroke="#4D4D4D" stroke-width="0.4" text-anchor="middle">Sep</text>
<path d="M1976.9 756.7V765.4" stroke="#333333" stroke-width="2.7"/>
<text transform="translate(1995.5 794.6) rotate(-90)" font-size="25.4" fill="#4D4D4D" stroke="#4D4D4D" stroke-width="0.4" text-anchor="middle">Oct</text>
<text x="1853.2" y="848.3" font-size="31.1" text-anchor="middle" fill="#000" stroke="#000" stroke-width="0.5">Date</text>
<text transform="translate(1654.8 630.8) rotate(-90)" font-size="31.1" text-anchor="middle" fill="#000" stroke="#000" stroke-width="0.5">Disease Prevalence</text>
<text x="1621.8" y="451.3" font-size="36.7" fill="#000" stroke="#000" stroke-width="0.5">f</text>
</g>
<g id="legend">
<text x="840.5" y="937" font-size="30.8" fill="#000" stroke="#000" stroke-width="0.5">Diversity</text>
<circle cx="999.3" cy="925.7" r="10.4" fill="#68228B" fill-opacity="0.75" stroke="#000" stroke-opacity="0.74" stroke-width="2.2"/>
<text x="1039.5" y="935.2" font-size="25.4" fill="#000" stroke="#000" stroke-width="0.5">mixed</text>
<circle cx="1147.0" cy="925.7" r="10.4" fill="#FFD700" fill-opacity="0.75" stroke="#000" stroke-opacity="0.74" stroke-width="2.2"/>
<text x="1187.5" y="935.2" font-size="25.4" fill="#000" stroke="#000" stroke-width="0.5">single</text>
</g>
</svg>
</body></html>
